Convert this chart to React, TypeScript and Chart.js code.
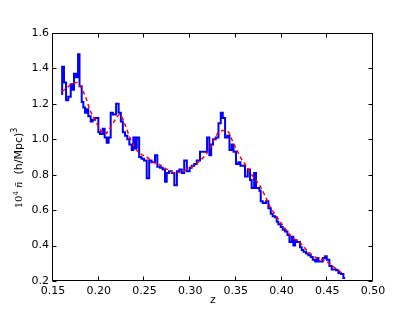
import React, { useEffect, useRef } from "react";
import { Chart, registerables } from "chart.js";

Chart.register(...registerables);

// Histogram bin starts (z) — last entry is the right edge of the final bin
const HIST_Z = [
  0.16, 0.162, 0.1643, 0.1667, 0.1694, 0.1715, 0.173, 0.1752, 0.1774, 0.179,
  0.1814, 0.1832, 0.185, 0.1869, 0.1886, 0.1912, 0.1934, 0.196, 0.1996, 0.2014,
  0.2044, 0.2065, 0.2087, 0.2109, 0.2131, 0.2155, 0.219, 0.2218, 0.2242, 0.2264,
  0.2288, 0.2313, 0.2335, 0.2361, 0.2379, 0.2397, 0.2416, 0.2442, 0.2468, 0.2495,
  0.2525, 0.2552, 0.2578, 0.2616, 0.2641, 0.2671, 0.27, 0.2725, 0.2744, 0.2769,
  0.28, 0.2827, 0.2855, 0.2882, 0.2908, 0.2935, 0.2964, 0.2995, 0.3017, 0.3045,
  0.3072, 0.3108, 0.3145, 0.3185, 0.321, 0.323, 0.325, 0.328, 0.331, 0.3335,
  0.3357, 0.3382, 0.3407, 0.343, 0.3455, 0.3475, 0.3502, 0.3528, 0.355, 0.36,
  0.363, 0.3655, 0.3673, 0.37, 0.372, 0.3757, 0.3772, 0.3794, 0.383, 0.3856,
  0.3882, 0.3903, 0.3929, 0.3947, 0.3965, 0.3991, 0.4013, 0.4038, 0.4064, 0.4086,
  0.4111, 0.4129, 0.4148, 0.4166, 0.4202, 0.4221, 0.4239, 0.4268, 0.4293, 0.4319,
  0.4341, 0.4367, 0.4385, 0.4403, 0.4451, 0.4476, 0.4494, 0.4523, 0.4549, 0.4596,
  0.4621, 0.4648, 0.4676, 0.4695,
];
// Histogram values (10^4 n̄); last entry is the end-drop value
const HIST_N = [
  1.25, 1.41, 1.32, 1.22, 1.24, 1.31, 1.28, 1.37, 1.35, 1.48,
  1.3, 1.21, 1.18, 1.15, 1.17, 1.13, 1.1, 1.11, 1.12, 1.04,
  1.03, 1.06, 1.01, 0.98, 1.01, 1.15, 1.14, 1.2, 1.15, 1.1,
  1.04, 1.02, 1.0, 0.97, 0.94, 1.01, 0.95, 1.01, 0.9, 0.89,
  0.88, 0.78, 0.88, 0.87, 0.91, 0.845, 0.84, 0.83, 0.76, 0.81,
  0.82, 0.81, 0.74, 0.82, 0.83, 0.81, 0.88, 0.82, 0.84, 0.85,
  0.86, 0.88, 0.93, 0.93, 1.01, 0.91, 0.97, 1.0, 1.01, 1.09,
  1.15, 1.12, 1.01, 1.02, 0.94, 0.97, 0.93, 0.86, 0.87, 0.85,
  0.79, 0.83, 0.77, 0.725, 0.81, 0.725, 0.71, 0.65, 0.64, 0.65,
  0.61, 0.58, 0.565, 0.56, 0.535, 0.52, 0.505, 0.49, 0.48, 0.46,
  0.42, 0.45, 0.4, 0.43, 0.42, 0.39, 0.375, 0.365, 0.355, 0.345,
  0.335, 0.32, 0.31, 0.33, 0.31, 0.33, 0.34, 0.32, 0.285, 0.265,
  0.26, 0.245, 0.24, 0.217,
];

// Smooth fit (red dashed)
const FIT_Z = [
  0.16, 0.165, 0.17, 0.176, 0.181, 0.187, 0.19, 0.196, 0.201, 0.207,
  0.212, 0.218, 0.223, 0.229, 0.234, 0.24, 0.245, 0.2525, 0.26, 0.267,
  0.275, 0.283, 0.292, 0.3, 0.311, 0.318, 0.325, 0.331, 0.336, 0.342,
  0.3455, 0.351, 0.356, 0.362, 0.366, 0.3765, 0.382, 0.3874, 0.393, 0.402,
  0.411, 0.4202, 0.4293, 0.4385, 0.4476, 0.4567, 0.466,
];
const FIT_N = [
  1.27, 1.29, 1.31, 1.32, 1.29, 1.22, 1.17, 1.11, 1.06, 1.03,
  1.06, 1.11, 1.14, 1.08, 1.01, 0.95, 0.92, 0.9, 0.87, 0.855,
  0.83, 0.81, 0.82, 0.84, 0.88, 0.92, 0.985, 1.04, 1.05, 1.04,
  1.0, 0.94, 0.89, 0.845, 0.81, 0.735, 0.68, 0.62, 0.575, 0.51,
  0.45, 0.415, 0.365, 0.33, 0.315, 0.28, 0.245,
];

const X_TICKS = [0.15, 0.2, 0.25, 0.3, 0.35, 0.4, 0.45, 0.5];
const Y_TICKS = [0.2, 0.4, 0.6, 0.8, 1.0, 1.2, 1.4, 1.6];

const X_TITLE = "z";

const framePlugin = {
  id: "frame",
  afterDraw(chart: any) {
    const { ctx, chartArea: a, scales } = chart;
    ctx.save();
    ctx.strokeStyle = "#000";
    ctx.lineWidth = 1;
    const L = Math.round(a.left) - 0.5;
    const R = Math.round(a.right) - 0.5;
    const T = Math.round(a.top) + 0.5;
    const B = Math.round(a.bottom) - 0.5;
    ctx.beginPath();
    ctx.rect(L, T, R - L, B - T);
    ctx.stroke();
    const len = 4;
    ctx.beginPath();
    X_TICKS.forEach((v) => {
      const x = Math.round(scales.x.getPixelForValue(v)) - 0.5;
      ctx.moveTo(x, B);
      ctx.lineTo(x, B - len);
      ctx.moveTo(x, T);
      ctx.lineTo(x, T + len);
    });
    Y_TICKS.forEach((v) => {
      const y = Math.round(scales.y.getPixelForValue(v)) + 0.5;
      ctx.moveTo(L, y);
      ctx.lineTo(L + len, y);
      ctx.moveTo(R, y);
      ctx.lineTo(R - len, y);
    });
    ctx.stroke();

    // y-axis label: 10^4 n̄  (h/Mpc)^3
    const parts: [string, string, number][] = [
      ["10", "10px 'DejaVu Serif'", 0],
      ["4", "7px 'DejaVu Serif'", -4],
      [" ", "10px 'DejaVu Serif'", 0],
      ["n̄", "italic 10px 'DejaVu Serif'", 0],
      ["  (h/Mpc)", "11px 'DejaVu Sans'", 0],
      ["3", "8px 'DejaVu Sans'", -5],
    ];
    let total = 0;
    const widths = parts.map(([t, f]) => {
      ctx.font = f;
      const w = ctx.measureText(t).width;
      total += w;
      return w;
    });
    ctx.translate(22, 168);
    ctx.rotate(-Math.PI / 2);
    ctx.fillStyle = "#000";
    ctx.textBaseline = "alphabetic";
    ctx.textAlign = "left";
    let x = -total / 2;
    parts.forEach(([t, f, dy], i) => {
      ctx.font = f;
      ctx.fillText(t, x, dy);
      x += widths[i];
    });
    ctx.restore();
  },
};

export default function App() {
  const ref = useRef<HTMLCanvasElement | null>(null);
  useEffect(() => {
    if (!ref.current) return;
    const hist = HIST_Z.map((z, i) => ({ x: z, y: HIST_N[i] }));
    const fit = FIT_Z.map((z, i) => ({ x: z, y: FIT_N[i] }));
    const chart = new Chart(ref.current, {
      type: "line",
      data: {
        datasets: [
          {
            data: fit,
            borderColor: "#ff0000",
            borderWidth: 1.5,
            borderDash: [4, 3],
            pointRadius: 0,
            cubicInterpolationMode: "monotone",
            order: 0,
          },
          {
            data: hist,
            borderColor: "#0000ff",
            borderWidth: 2,
            stepped: "after",
            pointRadius: 0,
            order: 1,
          },
        ],
      },
      options: {
        animation: false,
        responsive: false,
        maintainAspectRatio: false,
        layout: { padding: { left: 0, top: 33, right: 42, bottom: 0 } },
        plugins: { legend: { display: false }, tooltip: { enabled: false } },
        scales: {
          x: {
            type: "linear",
            min: 0.15,
            max: 0.5,
            grid: { display: false, drawTicks: false },
            border: { display: false },
            afterBuildTicks: (s: any) => {
              s.ticks = X_TICKS.map((v) => ({ value: v }));
            },
            afterFit: (s: any) => {
              s.height = 32;
            },
            ticks: {
              padding: 4,
              maxRotation: 0,
              autoSkip: false,
              color: "#000",
              font: { family: "'DejaVu Sans'", size: 11 },
              callback: (v: any) => Number(v).toFixed(2),
            },
            title: {
              display: true,
              text: X_TITLE,
              color: "#000",
              font: { family: "'DejaVu Sans'", size: 11 },
              padding: { top: 0, bottom: 6 },
            },
          },
          y: {
            type: "linear",
            min: 0.2,
            max: 1.6,
            grid: { display: false, drawTicks: false },
            border: { display: false },
            afterBuildTicks: (s: any) => {
              s.ticks = Y_TICKS.map((v) => ({ value: v }));
            },
            afterFit: (s: any) => {
              s.width = 53;
            },
            ticks: {
              padding: 4,
              autoSkip: false,
              color: "#000",
              font: { family: "'DejaVu Sans'", size: 11 },
              callback: (v: any) => Number(v).toFixed(1),
            },
          },
        },
      },
      plugins: [framePlugin],
    });
    return () => chart.destroy();
  }, []);
  return (
    <div style={{ position: "absolute", left: 0, top: 0, width: 415, height: 313, background: "#fff" }}>
      <canvas ref={ref} width={415} height={313} style={{ display: "block" }} />
    </div>
  );
}
